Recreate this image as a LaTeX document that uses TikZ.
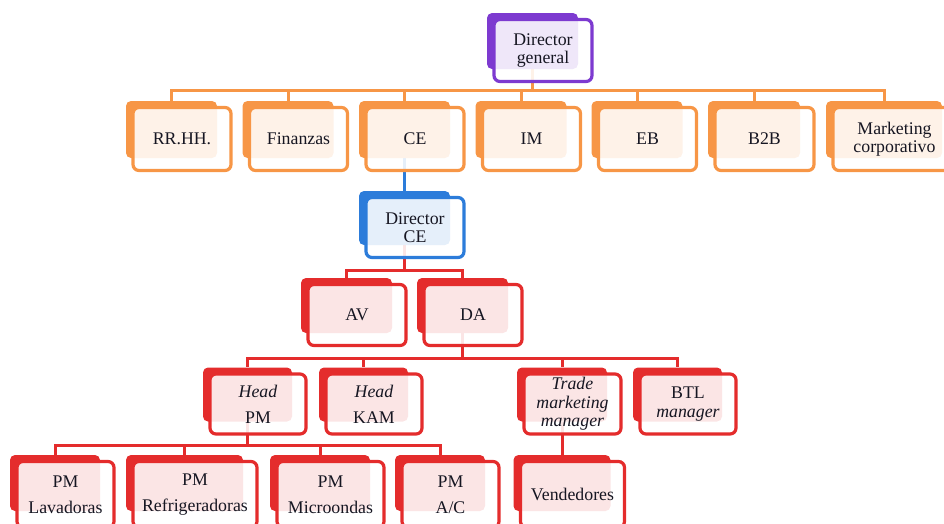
\documentclass[tikz,border=0pt]{standalone}
\usepackage{fontspec}
\setmainfont{Liberation Serif}
\newfontfamily\labelfont{Liberation Serif}
\pgfdeclarelayer{wires}
\pgfsetlayers{wires,main}

\definecolor{orgOrange}{RGB}{247,150,70}
\definecolor{orgPurple}{RGB}{125,58,208}
\definecolor{orgBlue}{RGB}{44,124,218}
\definecolor{orgRed}{RGB}{228,44,44}
\definecolor{inkText}{RGB}{22,22,34}

\tikzset{
  backbox/.style={rectangle, rounded corners=5pt, inner sep=0pt, draw=none},
  frontbox/.style={rectangle, rounded corners=6pt, line width=3.2pt,
    fill=white, fill opacity=0.88, text opacity=1, text=inkText,
    align=center, inner sep=2pt,
    font=\labelfont\fontsize{17.8}{18.5}\selectfont},
  wire/.style={line width=3pt},
}

% [#1] extra height of the framed panel, #2 name, #3 colour,
% #4,#5 centre of the solid back panel, #6,#7 its width and height, #8 label
\newcommand\orgunit[8][0]{%
  \node[backbox, fill=#3, minimum width=#6pt, minimum height=#7pt] (#2-b) at (#4,#5) {};
  \node[frontbox, draw=#3, minimum width={#6pt+7pt}, minimum height={#7pt+6pt+#1pt}]
    (#2) at ({#4+10.5},{#5+9.5+#1/2}) {#8};
}

\begin{document}
\begin{tikzpicture}[x=1pt, y=-1pt]
\useasboundingbox (0,0) rectangle (944,523);
\clip (0,0) rectangle (944,523);

% top
\orgunit{dg}{orgPurple}{532.5}{41}{91}{56}{Director\\general}

% divisions
\orgunit{rr}{orgOrange}{171.5}{129.5}{91}{57}{RR.HH.}
\orgunit{fin}{orgOrange}{288}{129.5}{91}{57}{Finanzas}
\orgunit{ce}{orgOrange}{404.5}{129.5}{91}{57}{CE}
\orgunit{im}{orgOrange}{521}{129.5}{91}{57}{IM}
\orgunit{eb}{orgOrange}{637}{129.5}{91}{57}{EB}
\orgunit{btb}{orgOrange}{754}{129.5}{92}{57}{B2B}
\orgunit{mkt}{orgOrange}{884}{129.5}{116}{57}{Marketing\\corporativo}

% CE branch
\orgunit{dce}{orgBlue}{404.5}{218}{91}{54}{Director\\CE}

\orgunit{av}{orgRed}{346.5}{305.5}{91}{55}{AV}
\orgunit{da}{orgRed}{462.5}{305.5}{91}{55}{DA}

\orgunit{hpm}{orgRed}{247.5}{394.5}{89}{54}{\textit{Head}\\[7.5pt]PM}
\orgunit{kam}{orgRed}{363.5}{394.5}{89}{54}{\textit{Head}\\[7.5pt]KAM}
\orgunit{tmm}{orgRed}{562}{394.5}{90}{54}{\textit{Trade}\\\textit{marketing}\\\textit{manager}}
\orgunit{btl}{orgRed}{677.5}{394.5}{89}{54}{BTL\\\textit{manager}}

\orgunit[4]{lav}{orgRed}{55}{483}{90}{56}{PM\\[7.5pt]Lavadoras}
\orgunit[4]{ref}{orgRed}{184.5}{483}{117}{56}{PM\\[7.5pt]Refrigeradoras}
\orgunit[4]{mic}{orgRed}{320}{483}{100}{56}{PM\\[7.5pt]Microondas}
\orgunit[4]{ac}{orgRed}{440}{483}{90}{56}{PM\\[7.5pt]A/C}
\orgunit[4]{ven}{orgRed}{562}{483}{97}{56}{Vendedores}

% bus heights
\coordinate (busA) at (0,90);
\coordinate (busB) at (0,270);
\coordinate (busC) at (0,358);
\coordinate (busD) at (0,445);

\begin{pgfonlayer}{wires}
  \foreach \n in {rr,fin,ce,im,eb,btb,mkt}
    \draw[wire, orgOrange] (dg-b.south) -- (dg-b.south |- busA) -| (\n-b.north);
  \draw[wire, orgBlue] (ce-b.south) -- (dce-b.north);
  \foreach \n in {av,da}
    \draw[wire, orgRed] (dce-b.south) -- (dce-b.south |- busB) -| (\n-b.north);
  \foreach \n in {hpm,kam,tmm,btl}
    \draw[wire, orgRed] (da-b.south) -- (da-b.south |- busC) -| (\n-b.north);
  \foreach \n in {lav,ref,mic,ac}
    \draw[wire, orgRed] (hpm-b.south) -- (hpm-b.south |- busD) -| (\n-b.north);
  \draw[wire, orgRed] (tmm-b.south) -- (ven-b.north);
\end{pgfonlayer}
\end{tikzpicture}
\end{document}
